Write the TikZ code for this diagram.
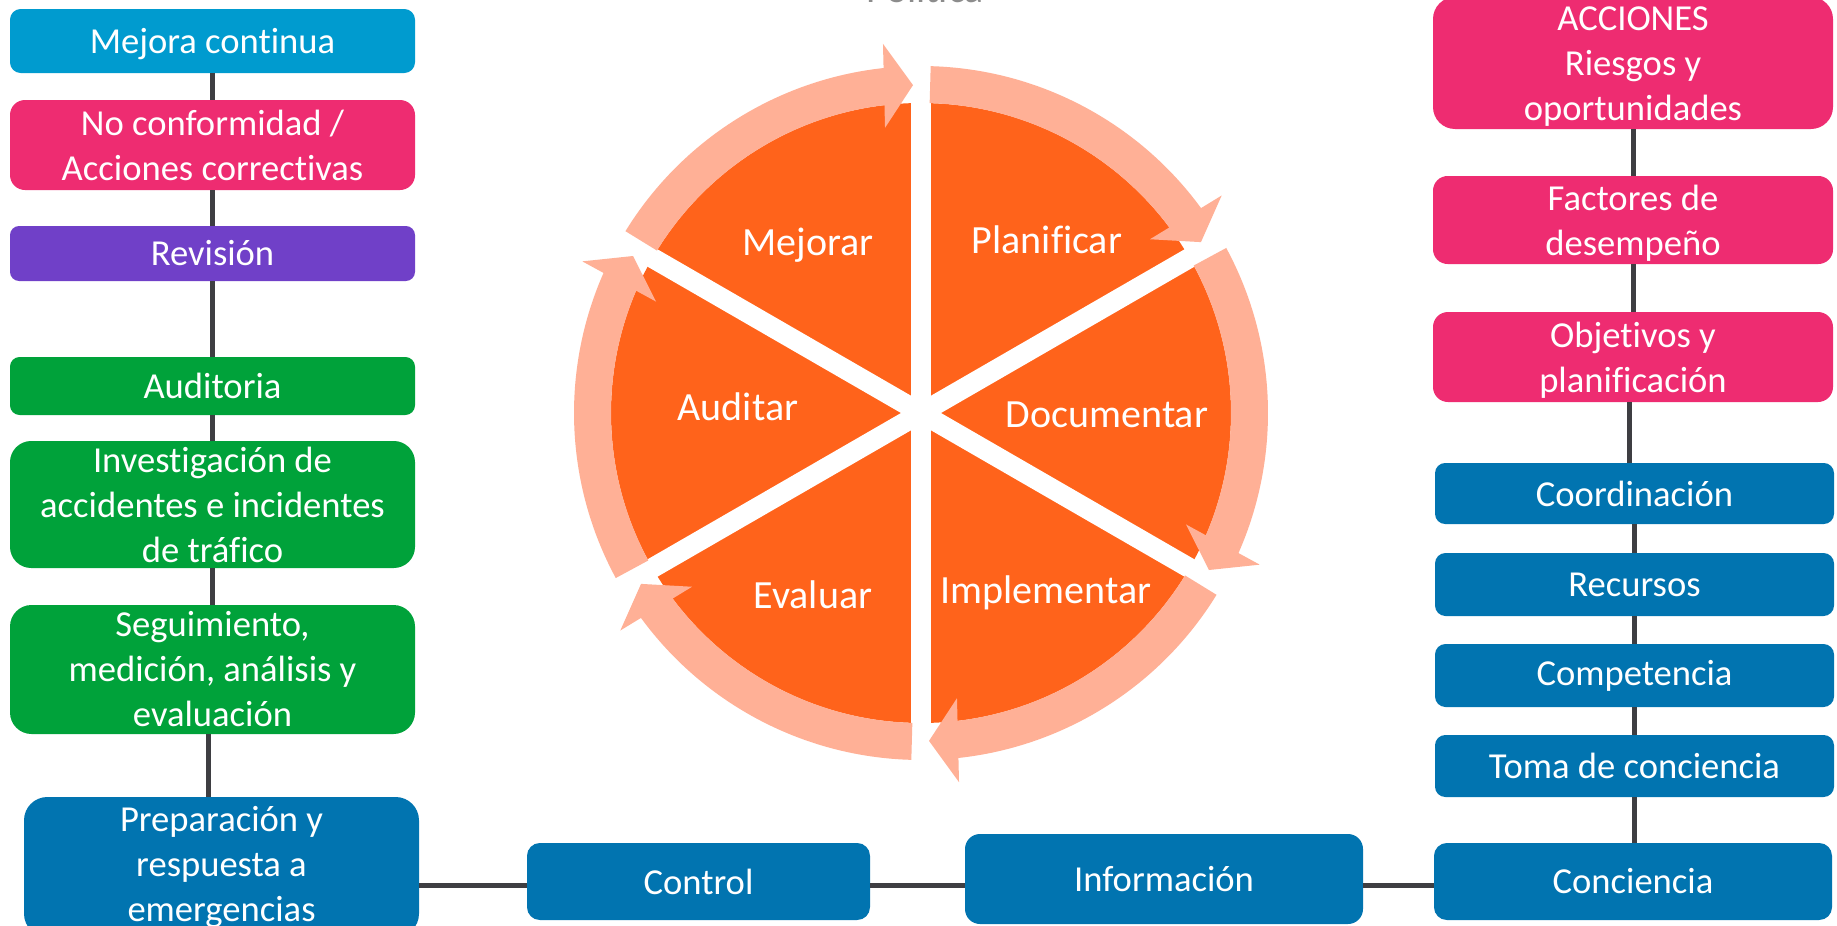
\documentclass[tikz,border=0pt]{standalone}
\usepackage{fontspec}
\setmainfont{Carlito}[Ligatures=NoCommon]
\usetikzlibrary{calc}
\definecolor{cyanb}{RGB}{0,155,207}
\definecolor{pinkb}{RGB}{238,44,113}
\definecolor{purpb}{RGB}{112,64,200}
\definecolor{greenb}{RGB}{0,162,58}
\definecolor{blueb}{RGB}{1,116,176}
\definecolor{orng}{RGB}{255,99,27}
\definecolor{salm}{RGB}{255,176,150}
\definecolor{conng}{RGB}{62,62,66}
\definecolor{polg}{RGB}{140,140,140}
% [text shift down in pt] name, colour, x1, y1, x2, y2 (pixels, y down), text
\newcommand\mybox[8][0]{%
  \pgfmathsetmacro\bw{(#6-#4)*0.5}%
  \pgfmathsetmacro\bh{(#7-#5)*0.5}%
  \pgfmathsetmacro\br{\bh/6}%
  \node[boxshape, fill=#3, minimum width=\bw pt, minimum height=\bh pt,
        rounded corners=\br pt,
        label={[boxtext, yshift=-#1pt]center:{#8}}] (#2) at ({(#4+#6)/2},{-(#5+#7)/2}) {};%
}
\begin{document}
\begin{tikzpicture}[x=0.5pt,y=0.5pt,
  boxshape/.style={inner sep=0pt, outer sep=0pt},
  boxtext/.style={inner sep=0pt, outer sep=0pt, text=white, align=center,
                  font=\fontsize{18.3pt}{22.5pt}\selectfont},
  conn/.style={draw=conng, line width=2.5pt},
  lbl/.style={text=white, font=\fontsize{20pt}{24pt}\selectfont},
]
\useasboundingbox (0,-926) rectangle (1837,0);
\fill[white] (0,-926) rectangle (1837,0);

% title (cut off at the top)
\node[anchor=base, text=polg, font=\fontsize{20pt}{24pt}\selectfont] (pol) at (925,-2.5) {Política};

% left column
\mybox[1.5]{mej}{cyanb}{10}{9}{415}{73}{Mejora continua}
\mybox{noc}{pinkb}{10}{100}{415}{190}{No conformidad /\\Acciones correctivas}
\mybox{rev}{purpb}{10}{226}{415}{281}{Revisión}
\mybox{aud}{greenb}{10}{357}{415}{415}{Auditoria}
\mybox{inv}{greenb}{10}{441}{415}{568}{Investigación de\\accidentes e incidentes\\de tráfico}
\mybox{seg}{greenb}{10}{605}{415}{734}{Seguimiento,\\medición, análisis y\\evaluación}
\mybox{prep}{blueb}{24}{797}{419}{937}{Preparación y\\respuesta a\\emergencias}

% bottom row
\mybox{ctrl}{blueb}{527}{843}{870}{920}{Control}
\mybox{info}{blueb}{965}{834}{1363}{924}{Información}
\mybox{conc}{blueb}{1434}{843}{1832}{920}{Conciencia}

% right column
\mybox[2]{acc}{pinkb}{1433}{-3}{1833}{129}{ACCIONES\\Riesgos y\\oportunidades}
\mybox[1.5]{fac}{pinkb}{1433}{176}{1833}{264}{Factores de\\desempeño}
\mybox[1.5]{obj}{pinkb}{1433}{312}{1833}{402}{Objetivos y\\planificación}
\mybox{coo}{blueb}{1435}{463}{1834}{524}{Coordinación}
\mybox{rec}{blueb}{1435}{553}{1834}{616}{Recursos}
\mybox{com}{blueb}{1435}{644}{1834}{707}{Competencia}
\mybox{tom}{blueb}{1435}{735}{1834}{797}{Toma de conciencia}

% connectors
\draw[conn] (mej.south) -- (noc.north);
\draw[conn] (noc.south) -- (rev.north);
\draw[conn] (rev.south) -- (aud.north);
\draw[conn] (aud.south) -- (inv.north);
\draw[conn] (inv.south) -- (seg.north);
\draw[conn] ([xshift=-2pt]seg.south) -- ([xshift=-2pt]seg.south |- prep.north);
\draw[conn] (acc.south) -- (fac.north);
\draw[conn] (fac.south) -- (obj.north);
\draw[conn] ([xshift=-2pt]obj.south) -- ([xshift=-2pt]obj.south |- coo.north);
\draw[conn] (coo.south) -- (coo.south |- rec.north);
\draw[conn] (rec.south) -- (rec.south |- com.north);
\draw[conn] (com.south) -- (com.south |- tom.north);
\draw[conn] (tom.south) -- (tom.south |- conc.north);
\coordinate (hl) at (0,-885);
\draw[conn] (prep.east |- hl) -- (ctrl.west |- hl);
\draw[conn] (ctrl.east |- hl) -- (info.west |- hl);
\draw[conn] (info.east |- hl) -- (conc.west |- hl);

% cycle
\coordinate (C) at (921,-413);
\fill[orng] (C) circle[radius=155pt];
\foreach \ang in {90,30,150}
  \draw[white, line width=10pt] ($(C)+(\ang:156pt)$) -- ($(C)+({\ang+180}:156pt)$);
\foreach \sa/\ta in {88.4/31.4, 28.4/-28.6, -31.6/-88.6, -91.6/-148.6, -151.6/-208.6, 148.4/91.4}{
  \pgfmathsetmacro\ea{\ta+4.7}
  \fill[salm] ($(C)+(\sa:173.5pt)$) arc[start angle=\sa, end angle=\ea, radius=173.5pt]
     -- ($(C)+(\ea:155pt)$) arc[start angle=\ea, end angle=\sa, radius=155pt] -- cycle;
  \fill[salm] ($(C)+(\ta:164pt)$)
     -- ($(C)+(\ta:164pt)+({\ta+90}:14.5pt)+(\ta:21pt)$)
     -- ($(C)+(\ta:164pt)+({\ta+90}:14.5pt)+({\ta+180}:21pt)$) -- cycle;
}
\node[lbl] (lmej) at ($(C)+(-113,168)$) {Mejorar};
\node[lbl] (lpla) at ($(C)+(126,173)$) {Planificar};
\node[lbl] (laud) at ($(C)+(-183,6)$) {Auditar};
\node[lbl] (ldoc) at ($(C)+(186,-2)$) {Documentar};
\node[lbl] (leva) at ($(C)+(-108,-182)$) {Evaluar};
\node[lbl] (limp) at ($(C)+(125,-180)$) {Implementar};
\end{tikzpicture}
\end{document}
